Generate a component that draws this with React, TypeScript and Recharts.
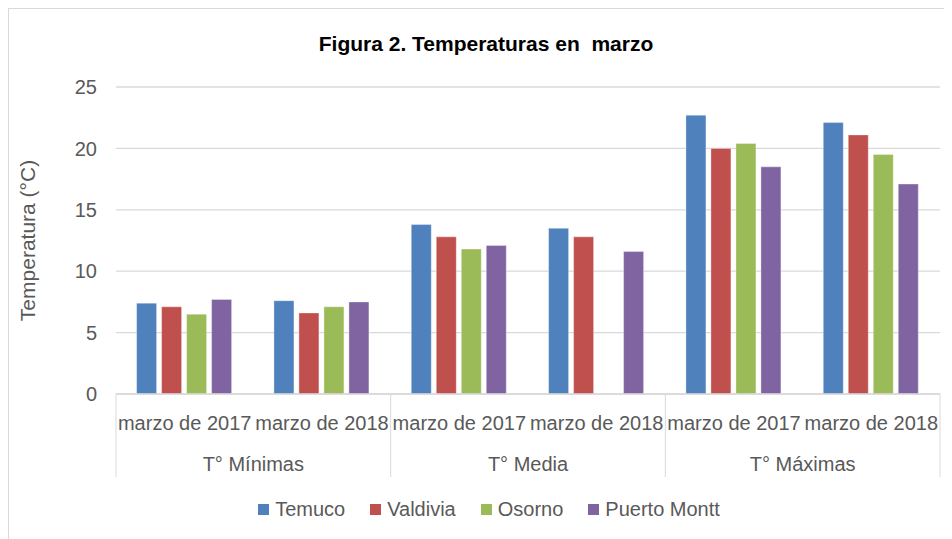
import { BarChart, Bar, XAxis, YAxis, CartesianGrid, Legend } from "recharts";

const periods = [
  "marzo de 2017",
  "marzo de 2018",
  "marzo de 2017",
  "marzo de 2018",
  "marzo de 2017",
  "marzo de 2018",
];
const groups = ["T° Mínimas", "T° Media", "T° Máximas"];
const temuco = [7.4, 7.6, 13.8, 13.5, 22.7, 22.1];
const valdivia = [7.1, 6.6, 12.8, 12.8, 20.0, 21.1];
const osorno = [6.5, 7.1, 11.8, null, 20.4, 19.5];
const puertoMontt = [7.7, 7.5, 12.1, 11.6, 18.5, 17.1];
const yTicks = [0, 5, 10, 15, 20, 25];

const series = [
  { key: "Temuco", values: temuco, color: "#4f81bd" },
  { key: "Valdivia", values: valdivia, color: "#c0504d" },
  { key: "Osorno", values: osorno, color: "#9bbb59" },
  { key: "Puerto Montt", values: puertoMontt, color: "#8064a2" },
];

const data = periods.map((p, i) => {
  const row: Record<string, string | number | null> = { id: i, period: p };
  series.forEach((s) => (row[s.key] = s.values[i]));
  return row;
});

const W = 944;
const H = 531;
const MARGIN = { top: 79, right: 12, left: 0, bottom: 0 };
const Y_W = 108;
const PLOT_W = W - MARGIN.left - MARGIN.right - Y_W;
const BAND = PLOT_W / periods.length;
const FONT = "'Liberation Sans', Arial, sans-serif";
const TEXT = "#595959";
const LINE = "#d9d9d9";

function PeriodTick(props: any) {
  const { x, y, index } = props;
  const label = periods[index];
  const first = index % 2 === 0;
  const last = index === periods.length - 1;
  return (
    <g>
      <text x={x} y={y + 36} textAnchor="middle" fontSize={20} fill={TEXT} fontFamily={FONT}>
        {label}
      </text>
      {first && (
        <>
          <line x1={x - BAND / 2} x2={x - BAND / 2} y1={y} y2={y + 83} stroke={LINE} />
          <text x={x + BAND / 2} y={y + 77} textAnchor="middle" fontSize={20} fill={TEXT} fontFamily={FONT}>
            {groups[index / 2]}
          </text>
        </>
      )}
      {last && <line x1={x + BAND / 2} x2={x + BAND / 2} y1={y} y2={y + 83} stroke={LINE} />}
    </g>
  );
}

function YLabel(props: any) {
  const vb = props.viewBox;
  const cx = vb.x + 19;
  const cy = vb.y + vb.height / 2;
  return (
    <text
      x={cx}
      y={cy}
      transform={`rotate(-90 ${cx} ${cy})`}
      textAnchor="middle"
      dominantBaseline="central"
      fontSize={21}
      fill={TEXT}
      fontFamily={FONT}
    >
      Temperatura (°C)
    </text>
  );
}

function LegendContent() {
  return (
    <div
      style={{
        display: "flex",
        justifyContent: "center",
        gap: 25,
        paddingLeft: 18,
        fontFamily: FONT,
        fontSize: 20,
        color: TEXT,
      }}
    >
      {series.map((s) => (
        <div key={s.key} style={{ display: "flex", alignItems: "center" }}>
          <span style={{ width: 11, height: 11, background: s.color, marginRight: 6, display: "inline-block" }} />
          {s.key}
        </div>
      ))}
    </div>
  );
}

export default function App() {
  return (
    <div
      style={{
        position: "relative",
        width: W,
        height: H,
        borderLeft: `1px solid ${LINE}`,
        borderTop: `1px solid ${LINE}`,
        boxSizing: "border-box",
        background: "#fff",
      }}
    >
      <div
        style={{
          position: "absolute",
          top: 23,
          left: 0,
          width: W,
          paddingLeft: 10,
          boxSizing: "border-box",
          textAlign: "center",
          fontFamily: FONT,
          fontWeight: "bold",
          fontSize: 21,
          color: "#000",
          whiteSpace: "pre",
        }}
      >
        Figura 2. Temperaturas en  marzo
      </div>
      <BarChart
        width={W}
        height={H}
        data={data}
        margin={MARGIN}
        barCategoryGap="15%"
        barGap={5}
        style={{ position: "absolute", top: -1, left: -1 }}
      >
        <CartesianGrid vertical={false} stroke={LINE} strokeWidth={1.3} />
        <XAxis
          dataKey="id"
          height={145}
          axisLine={{ stroke: LINE, strokeWidth: 1.3 }}
          tickLine={false}
          tickSize={0}
          tickMargin={0}
          interval={0}
          tick={<PeriodTick />}
        />
        <YAxis
          width={Y_W}
          domain={[0, 25]}
          ticks={yTicks}
          axisLine={false}
          tickLine={false}
          tickMargin={13}
          tick={{ fontSize: 20, fill: TEXT, fontFamily: FONT }}
          label={<YLabel />}
        />
        <Legend
          layout="horizontal"
          verticalAlign="middle"
          align="center"
          wrapperStyle={{ top: 490, left: 0, width: W }}
          content={<LegendContent />}
        />
        {series.map((s) => (
          <Bar
            key={s.key}
            dataKey={s.key}
            fill={s.color}
            stroke="#ffffff"
            strokeOpacity={0.35}
            isAnimationActive={false}
          />
        ))}
      </BarChart>
    </div>
  );
}
